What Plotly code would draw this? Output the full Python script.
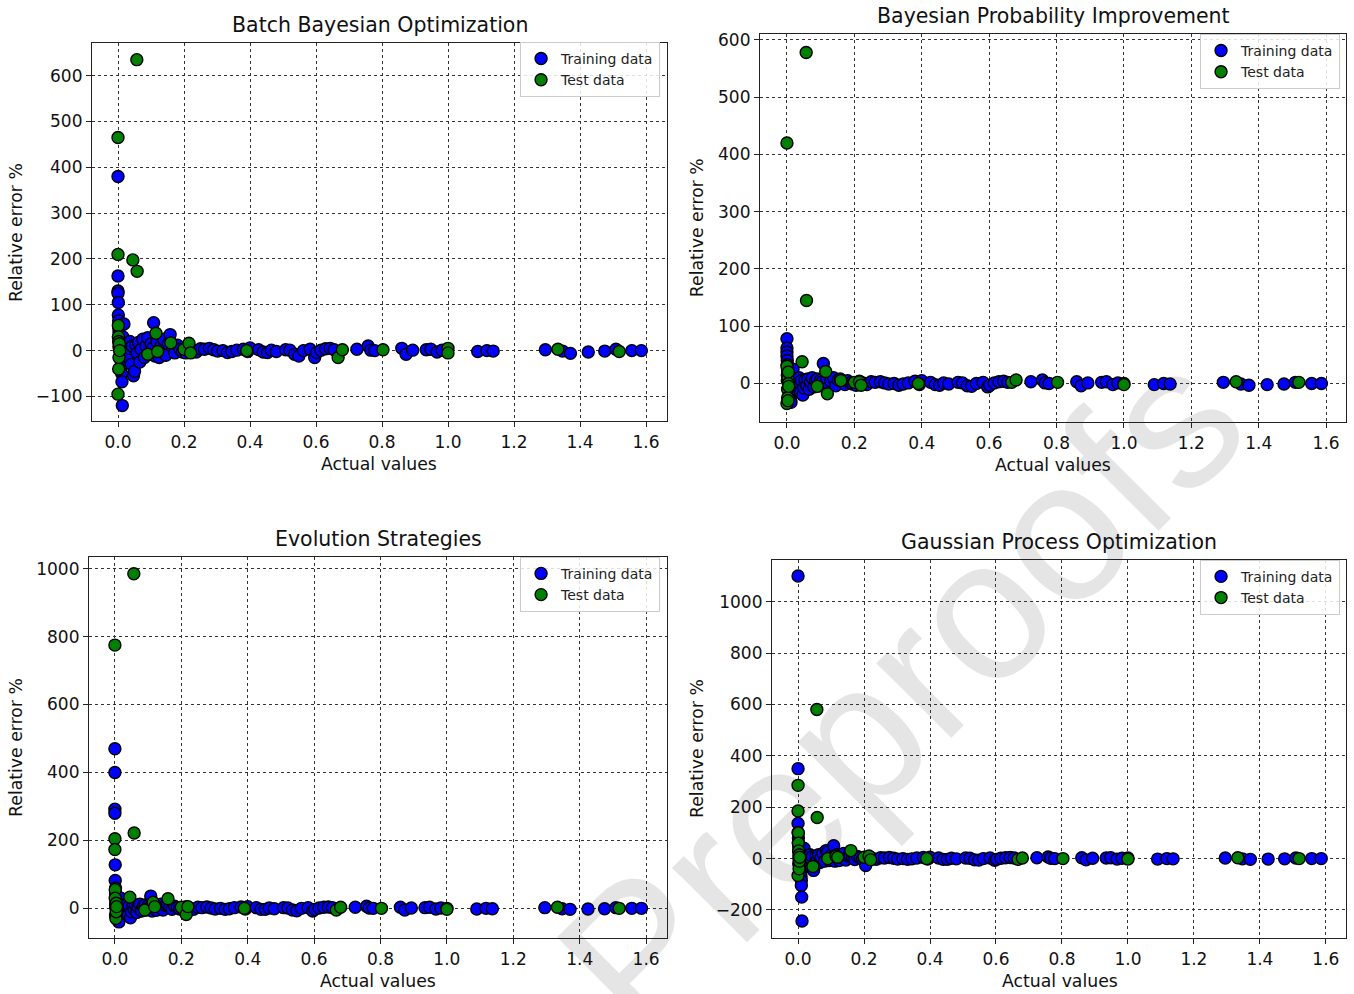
import plotly.graph_objects as go

# ---------------- data ----------------
titles = ["Batch Bayesian Optimization", "Bayesian Probability Improvement",
          "Evolution Strategies", "Gaussian Process Optimization"]
x_label = "Actual values"
y_label = "Relative error %"
legend_names = ["Training data", "Test data"]

train_x_col = [0.0, 0.0, 0.0, 0.0, 0.001, 0.001, 0.002, 0.002, 0.003, 0.003, 0.004, 0.004, 0.005,
               0.005, 0.006, 0.006, 0.007, 0.008, 0.008, 0.009, 0.01, 0.01, 0.011, 0.012, 0.013]
train_x_mid = [0.015, 0.018, 0.02, 0.022, 0.025, 0.028, 0.03, 0.033, 0.036, 0.04, 0.043, 0.047, 0.05,
               0.054, 0.058, 0.062, 0.066, 0.07, 0.075, 0.08, 0.085, 0.09, 0.095, 0.1, 0.105, 0.108,
               0.112, 0.118, 0.125, 0.13, 0.138, 0.145, 0.152, 0.158, 0.165, 0.172, 0.18, 0.188, 0.195]
train_x_tail = [0.205, 0.215, 0.225, 0.237, 0.25, 0.262, 0.277, 0.29, 0.302, 0.318,
                0.332, 0.345, 0.36, 0.38, 0.393, 0.4, 0.426, 0.44, 0.453, 0.465,
                0.48, 0.508, 0.521, 0.535, 0.548, 0.562, 0.582, 0.596, 0.602, 0.615,
                0.629, 0.643, 0.655, 0.724, 0.758, 0.766, 0.778, 0.86, 0.873, 0.893,
                0.934, 0.948, 0.967, 0.982, 1.09, 1.118, 1.137, 1.295, 1.347, 1.371,
                1.425, 1.475, 1.509, 1.557, 1.586]
test_x = [0.0, 0.0, 0.0, 0.001, 0.001, 0.002, 0.002, 0.003, 0.003, 0.004, 0.004, 0.005, 0.045,
          0.057, 0.058, 0.09, 0.115, 0.12, 0.16, 0.2, 0.215, 0.22, 0.39, 0.667, 0.68, 0.803,
          1.0, 1.0, 1.333, 1.519]

# Batch Bayesian Optimization
bbo_train_col = [380, 163, 130, 125, 105, 78, 65, 50, 40, 32, 25, 18, 12, 8, 4, 0, -4, -8, -12, -18,
                 -25, -35, -50, -68, -120]
bbo_train_mid = [30, 58, -10, 15, -20, 8, -15, 5, 20, -30, 10, -55, -45, 12, -5, 18, -25, 3, 25, -15,
                 10, 28, -8, 15, 5, 61, -12, 20, -15, 10, 25, -10, 15, 35, 8, -5, 12, 3, -3]
bbo_train_tail = [-5, 8, 2, -3, 4, 3, 5, 2, -1, 0, -4, -2, 1, 3, -2, 6, 2, -3, -4, 1,
                  -2, 2, 1, -8, -12, 0, 3, -15, -4, 1, 4, 5, 2, 3, 10, 1, 0, 5, -8, 1,
                  2, 3, -3, 1, -2, 0, -1, 2, -1, -6, -3, -1, 3, 0, 0]
bbo_test = [465, 210, -95, 55, 30, -40, 20, 10, -15, 5, 15, 0, 198, 635, 173, -8, 38, -2, 17, 3,
            16, -5, 0, -15, 2, 2, 5, -5, 3, -2]

# Bayesian Probability Improvement
bpi_train_col = [78, 62, 55, 48, 40, 33, 25, 20, 15, 10, 6, 3, 0, -2, -5, -8, -10, -14, -18, -22,
                 -25, -28, -30, -33, -12]
bpi_train_mid = [10, 25, -5, 8, -10, 5, -12, 3, 10, -15, 5, -20, -8, 6, -3, 8, -10, 2, 10, -6,
                 5, 8, -4, 6, 3, 35, -6, 8, -5, 4, 10, -4, 6, 8, 3, -2, 5, 1, -1]
bpi_train_tail = [-3, 4, 1, -2, 3, 2, 3, 1, -1, 0, -3, -1, 1, 4, -2, 5, 2, -2, -3, 1,
                  -1, 2, 1, -4, -5, 0, 2, -6, -3, 1, 3, 4, 2, 3, 6, 1, 0, 3, -4, 1,
                  2, 3, -2, 1, -2, 0, -1, 2, -1, -3, -2, -1, 2, 0, 0]
bpi_test = [420, 30, -35, 15, 5, -10, -25, 10, -30, 20, 0, -5, 38, 578, 145, -5, 21, -18, 5, 2,
            3, -3, 0, 2, 6, 2, 0, -2, 3, 2]

# Evolution Strategies
es_train_col = [470, 400, 292, 280, 128, 82, 60, 45, 35, 25, 18, 12, 6, 2, 0, -3, -6, -10, -15, -20,
                -25, -30, -35, -40, -12]
es_train_mid = [15, 30, -5, 10, -15, 8, -12, 5, 12, -20, 6, -28, -10, 8, -4, 10, -12, 3, 12, -8,
                6, 10, -5, 8, 4, 36, -8, 10, -6, 5, 12, -5, 8, 10, 4, -3, 6, 2, -2]
es_train_tail = [-4, 5, 1, -3, 3, 2, 4, 1, -2, 0, -3, -1, 2, 4, -2, 5, 2, -3, -3, 1,
                 -1, 2, 1, -5, -7, 0, 2, -8, -3, 1, 3, 4, 2, 3, 6, 1, 0, 3, -5, 1,
                 2, 3, -2, 1, -2, 0, -1, 2, -1, -3, -2, -1, 2, 0, 0]
es_test = [775, 205, 173, 55, 30, -20, 10, 0, -30, 15, -10, 5, 33, 985, 222, -5, 18, 5, 28, 3,
           -18, 5, 0, -5, 3, 0, 0, -3, 3, 0]

# Gaussian Process Optimization
gpo_train_col = [1100, 350, 137, 102, 80, 60, 45, 30, 20, 10, 5, 0, -5, -10, -15, -20, -30, -40, -55,
                 -70, -85, -105, -150, -243, 15]
gpo_train_mid = [20, 40, -10, 12, -20, 10, -15, 6, 15, -35, 8, -46, -20, 10, -6, 15, -15, 5, 20, -10,
                 31, 25, -8, 12, 5, 50, -10, 15, -8, 8, 20, -6, 10, 12, 5, -4, 8, 3, -3]
gpo_train_tail = [-27, 5, 1, -3, 3, 2, 4, 1, -2, 0, -3, -1, 2, 4, -2, 5, 2, -3, -3, 1,
                  -1, 2, 1, -5, -6, 0, 2, -7, -3, 1, 3, 4, 2, 3, 6, 1, 0, 3, -5, 1,
                  2, 3, -2, 1, -2, 0, -1, 2, -1, -3, -2, -1, 2, 0, 0]
gpo_test = [285, 185, -66, 100, 60, 30, -20, 0, -40, 15, -10, 5, -31, 580, 160, 0, 10, 5, 31, 5,
            10, -5, 0, -3, 2, 0, 2, -2, 3, 0]

y_dticks = [100, 100, 200, 200]
x_ranges = [[-0.0788, 1.6636], [-0.080, 1.659], [-0.078, 1.663], [-0.079, 1.661]]
y_ranges = [[-154.3, 671.7], [-67.8, 610.4], [-88, 1035], [-310, 1163]]

# ---------------- layout geometry ----------------
W, H = 1354, 994
x_domains = [[0.06795, 0.49261], [0.56130, 0.99409], [0.06573, 0.49261], [0.57016, 0.99409]]
y_domains = [[0.57847, 0.96076], [0.57746, 0.96982], [0.05634, 0.44165], [0.05634, 0.43863]]
title_pos = [(0.2803, 0.9789), (0.7777, 0.9879), (0.2792, 0.4598), (0.7821, 0.4567)]
xlab_pos = [(0.2799, 0.5352), (0.7777, 0.5342), (0.2792, 0.0131), (0.7829, 0.0131)]
ylab_pos = [(0.0118, 0.7696), (0.5148, 0.7736), (0.0118, 0.2495), (0.5148, 0.2475)]
legend_pos = [(0.4875, 0.9617), (0.9897, 0.9698), (0.4875, 0.4416), (0.9897, 0.4386)]

FONT = "DejaVu Sans"
fig = go.Figure()

train_x = train_x_col + train_x_mid + train_x_tail
train_sets = [bbo_train_col + bbo_train_mid + bbo_train_tail,
              bpi_train_col + bpi_train_mid + bpi_train_tail,
              es_train_col + es_train_mid + es_train_tail,
              gpo_train_col + gpo_train_mid + gpo_train_tail]
test_sets = [bbo_test, bpi_test, es_test, gpo_test]

layout = {}
annotations = []
for i in range(4):
    sfx = "" if i == 0 else str(i + 1)
    leg = "legend" + sfx
    fig.add_trace(go.Scatter(
        x=train_x, y=train_sets[i], mode="markers", name=legend_names[0],
        xaxis="x" + sfx, yaxis="y" + sfx, legend=leg,
        marker=dict(size=12, color="#0000ff", line=dict(color="black", width=1.4))))
    fig.add_trace(go.Scatter(
        x=test_x, y=test_sets[i], mode="markers", name=legend_names[1],
        xaxis="x" + sfx, yaxis="y" + sfx, legend=leg,
        marker=dict(size=12, color="#008000", line=dict(color="black", width=1.4))))
    axis_common = dict(showline=True, mirror=True, linecolor="#222", linewidth=1.2,
                       ticks="outside", ticklen=5, tickwidth=1, tickcolor="#222",
                       showgrid=True, gridcolor="#333", gridwidth=0.9, griddash="dot",
                       zeroline=False, tickfont=dict(family=FONT, size=17, color="#111"))
    layout["xaxis" + sfx] = dict(axis_common, domain=x_domains[i], range=x_ranges[i],
                                 anchor="y" + sfx, tick0=0, dtick=0.2, tickformat=".1f")
    layout["yaxis" + sfx] = dict(axis_common, domain=y_domains[i], range=y_ranges[i],
                                 anchor="x" + sfx, tick0=0, dtick=y_dticks[i])
    layout[leg] = dict(x=legend_pos[i][0], y=legend_pos[i][1], xanchor="right", yanchor="top",
                       bgcolor="rgba(255,255,255,0.85)", bordercolor="#cccccc", borderwidth=1,
                       font=dict(family=FONT, size=14, color="#222"), tracegroupgap=0,
                       itemwidth=30)
    annotations.append(dict(text=titles[i], x=title_pos[i][0], y=title_pos[i][1], xref="paper",
                            yref="paper", showarrow=False, xanchor="center", yanchor="middle",
                            font=dict(family=FONT, size=20.5, color="#111")))
    annotations.append(dict(text=x_label, x=xlab_pos[i][0], y=xlab_pos[i][1], xref="paper",
                            yref="paper", showarrow=False, xanchor="center", yanchor="middle",
                            font=dict(family=FONT, size=17.3, color="#111")))
    annotations.append(dict(text=y_label, x=ylab_pos[i][0], y=ylab_pos[i][1], xref="paper",
                            yref="paper", showarrow=False, xanchor="center", yanchor="middle",
                            textangle=-90, font=dict(family=FONT, size=17.3, color="#111")))

# watermark, drawn below the plot content
shapes = [dict(type="rect", xref="paper", yref="paper", x0=0.555, x1=0.755, y0=0.27, y1=0.37,
               line=dict(width=0), fillcolor="rgba(0,0,0,0)", layer="below",
               label=dict(text="Preproofs", textangle=-45, textposition="middle center",
                          font=dict(family="Liberation Sans", size=200, color="#e5e5e5")))]

fig.update_layout(**layout)
fig.update_layout(width=W, height=H, autosize=False, margin=dict(l=0, r=0, t=0, b=0),
                  paper_bgcolor="white", plot_bgcolor="rgba(0,0,0,0)",
                  annotations=annotations, shapes=shapes, showlegend=True,
                  font=dict(family=FONT))

fig.write_html("out.html", config={"displayModeBar": False},
               post_script="document.body.style.margin='0';document.body.style.overflow='hidden';")
